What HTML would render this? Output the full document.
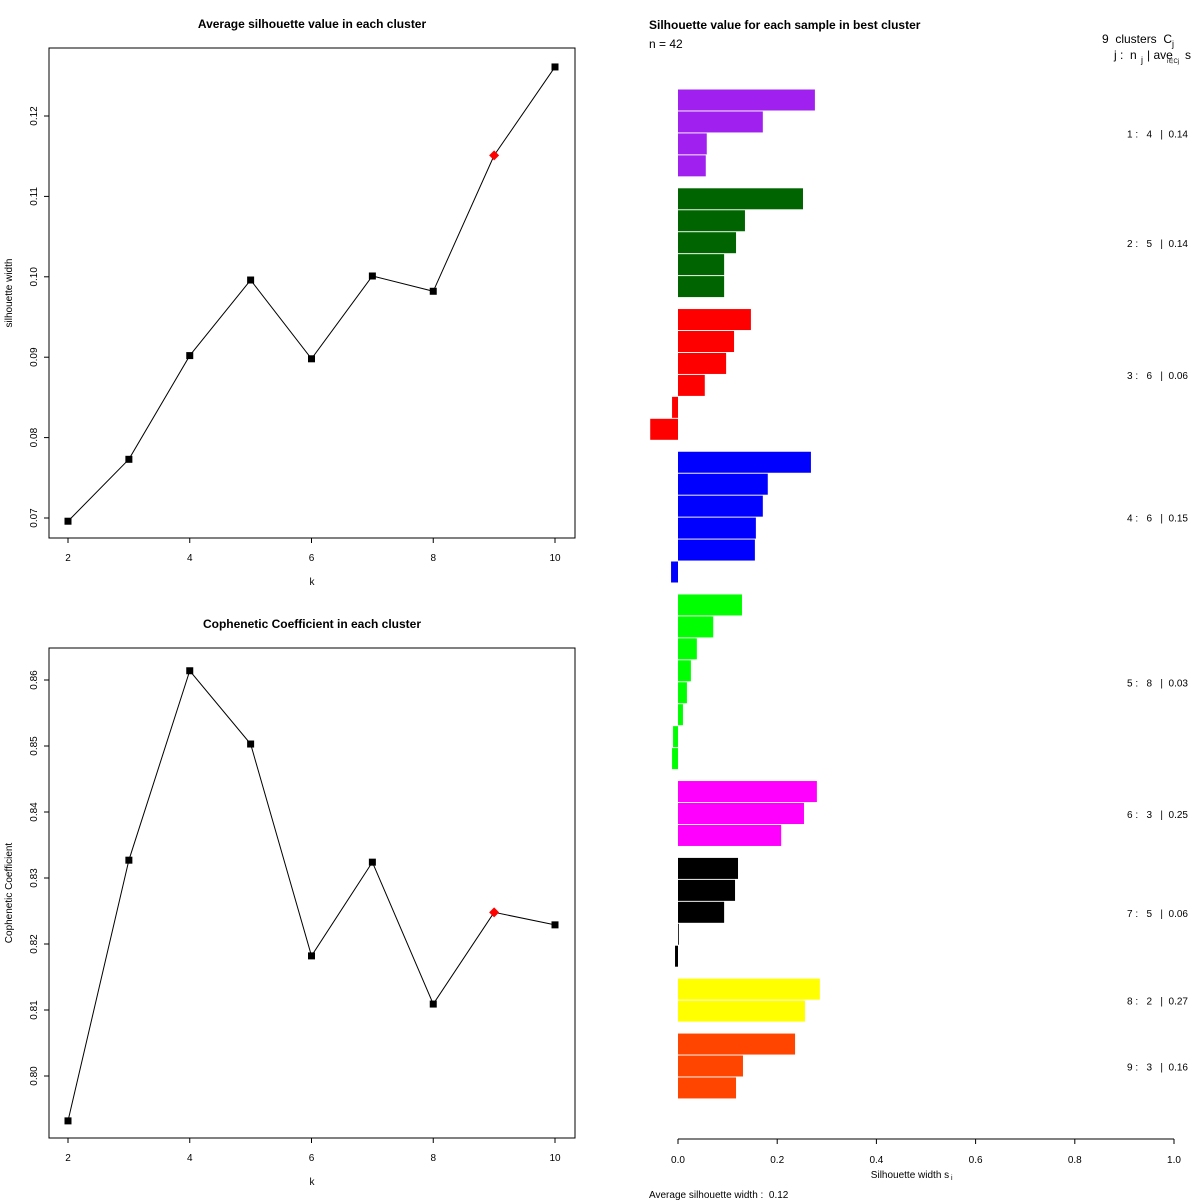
<!DOCTYPE html>
<html><head><meta charset="utf-8"><style>
html,body{margin:0;padding:0;background:#fff;}
svg{display:block;font-family:"Liberation Sans",sans-serif;}
svg text{white-space:pre;}
</style></head><body>
<svg id="svg" width="1200" height="1200" viewBox="0 0 1200 1200">
<rect width="1200" height="1200" fill="#fff"/>
</svg>
<script>
const ks=[2,3,4,5,6,7,8,9,10];
const silAvg=[0.0696,0.0773,0.0902,0.0996,0.0898,0.1001,0.0982,0.1151,0.1261];
const cophen=[0.7932,0.8327,0.8614,0.8503,0.8182,0.8324,0.8109,0.8248,0.8229];
const bestK=9;
const xTicks=[2,4,6,8,10];
const silTicks=[0.07,0.08,0.09,0.10,0.11,0.12];
const silTickLabels=["0.07","0.08","0.09","0.10","0.11","0.12"];
const copTicks=[0.80,0.81,0.82,0.83,0.84,0.85,0.86];
const copTickLabels=["0.80","0.81","0.82","0.83","0.84","0.85","0.86"];
const clusterColors=["#a020f0","#006400","#ff0000","#0000ff","#00ff00","#ff00ff","#000000","#ffff00","#ff4500"];
const clusterVals=[
[0.276,0.171,0.058,0.056],
[0.252,0.135,0.117,0.093,0.093],
[0.147,0.113,0.097,0.054,-0.012,-0.056],
[0.268,0.181,0.171,0.157,0.155,-0.014],
[0.129,0.071,0.038,0.026,0.018,0.010,-0.010,-0.012],
[0.280,0.254,0.208],
[0.121,0.115,0.093,0.0,-0.006],
[0.286,0.256],
[0.236,0.131,0.117]];
const clusterAvgLabels=["0.14","0.14","0.06","0.15","0.03","0.25","0.06","0.27","0.16"];
const sTicks=[0,0.2,0.4,0.6,0.8,1.0];
const sTickLabels=["0.0","0.2","0.4","0.6","0.8","1.0"];

const svg=document.getElementById('svg');
const NS="http://www.w3.org/2000/svg";
function mk(tag,attrs,parent){const e=document.createElementNS(NS,tag);for(const k in attrs)e.setAttribute(k,attrs[k]);(parent||svg).appendChild(e);return e;}
function txt(s,attrs,parent){const e=mk('text',attrs,parent);e.textContent=s;return e;}

function linePanel(name,top,title,vals,yTicks,yLabels,yv0,yp0,yv1,yp1,ylab){
  const g=mk('g',{});
  
  
  const L=49,R=575,T=top,B=top+490;
  const xs=k=>68+(k-2)*(555-68)/8;
  const ys=v=>yp0+(v-yv0)*(yp1-yp0)/(yv1-yv0);
  const t=txt(title,{x:312,y:top-20,'text-anchor':'middle','font-size':12,'font-weight':'bold'},g);
  
  
  const box=mk('rect',{x:L,y:T,width:R-L,height:B-T,fill:'none',stroke:'#000','stroke-width':1},g);
  
  
  xTicks.forEach(k=>{
    mk('line',{x1:xs(k),x2:xs(k),y1:B,y2:B+5,stroke:'#000'},g);
    const tl=txt(String(k),{x:xs(k),y:B+23,'text-anchor':'middle','font-size':10},g);
    
    
  });
  yTicks.forEach((v,i)=>{
    const y=ys(v);
    mk('line',{x1:L-5,x2:L,y1:y,y2:y,stroke:'#000'},g);
    const tl=txt(yLabels[i],{x:0,y:0,'text-anchor':'middle','font-size':10,transform:`translate(37,${y}) rotate(-90)`},g);
    
    
  });
  const xl=txt('k',{x:312,y:B+47,'text-anchor':'middle','font-size':10},g);
  
  
  const yl=txt(ylab,{x:0,y:0,'text-anchor':'middle','font-size':10,transform:`translate(12,${(T+B)/2}) rotate(-90)`},g);
  
  
  const pts=ks.map((k,i)=>xs(k)+','+ys(vals[i])).join(' ');
  const pl=mk('polyline',{points:pts,fill:'none',stroke:'#000','stroke-width':1},g);
  
  
  ks.forEach((k,i)=>{
    const x=xs(k),y=ys(vals[i]);
    let m;
    if(k===bestK){m=mk('polygon',{points:`${x},${y-5} ${x+5},${y} ${x},${y+5} ${x-5},${y}`,fill:'#ff0000'},g);}
    else{m=mk('rect',{x:x-3.5,y:y-3.5,width:7,height:7,fill:'#000'},g);}
    
    
  });
}
linePanel('silhouette-line-chart',48,'Average silhouette value in each cluster',silAvg,silTicks,silTickLabels,0.07,518,0.12,116,'silhouette width');
linePanel('cophenetic-line-chart',648,'Cophenetic Coefficient in each cluster',cophen,copTicks,copTickLabels,0.80,1076,0.86,680,'Cophenetic Coefficient');

const sg=mk('g',{});


const sx=v=>678+v*496;
const t2=txt('Silhouette value for each sample in best cluster',{x:649,y:29,'font-size':12,'font-weight':'bold'},sg);


const nt=txt('n = 42',{x:649,y:48,'font-size':12},sg);


const h1=txt('9  clusters  C',{x:1102,y:43,'font-size':12},sg);


txt('j',{x:1172,y:47,'font-size':9},sg);
const h2=txt('j :  n',{x:1114,y:59,'font-size':12},sg);


txt('j',{x:1141,y:63,'font-size':9},sg);
txt('| ave',{x:1147,y:59,'font-size':12},sg);
txt('i∈Cj',{x:1167,y:63,'font-size':6},sg);
txt('s',{x:1185,y:59,'font-size':12},sg);
let idx=0;
clusterVals.forEach((vals,c)=>{
  const start=idx;
  vals.forEach(v=>{
    const y=89.5+idx*21.95+c*11;
    const x0=Math.min(sx(0),sx(v)),w=Math.max(Math.abs(sx(v)-sx(0)),0.8);
    const r=mk('rect',{x:x0,y:y,width:w,height:21,fill:clusterColors[c]},sg);
    
    
    idx++;
  });
  const mid=89.5+((start+idx)/2)*21.95+c*11;
  const lab=txt(`${c+1} :   ${vals.length}   |  ${clusterAvgLabels[c]}`,{x:1188,y:mid+4,'text-anchor':'end','font-size':10},sg);
  
  
});
mk('line',{x1:sx(0),x2:sx(1),y1:1139,y2:1139,stroke:'#000'},sg);
sTicks.forEach((v,i)=>{
  mk('line',{x1:sx(v),x2:sx(v),y1:1139,y2:1144,stroke:'#000'},sg);
  const tl=txt(sTickLabels[i],{x:sx(v),y:1163,'text-anchor':'middle','font-size':10},sg);
  
  
});
const xt=txt('Silhouette width s',{x:910,y:1178,'text-anchor':'middle','font-size':10},sg);


txt('i',{x:951,y:1180,'font-size':7},sg);
const av=txt('Average silhouette width :  0.12',{x:649,y:1198,'font-size':10},sg);


</script>
</body></html>
